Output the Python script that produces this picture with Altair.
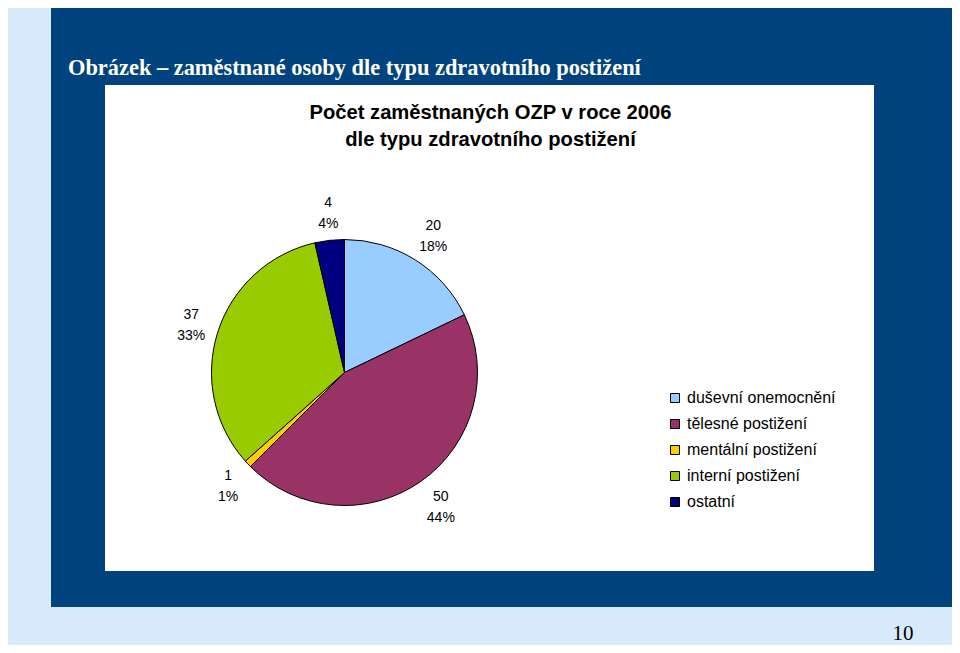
import altair as alt
import pandas as pd

# ---- data ----
categories = ["duševní onemocnění", "tělesné postižení", "mentální postižení",
              "interní postižení", "ostatní"]
values = [20, 50, 1, 37, 4]
percents = [18, 44, 1, 33, 4]
colors = ["#99CCFF", "#993366", "#FFCC00", "#99CC00", "#000080"]

page_title = "Obrázek – zaměstnané osoby dle typu zdravotního postižení"
chart_title = ["Počet zaměstnaných OZP v roce 2006", "dle typu zdravotního postižení"]
page_number = "10"

df = pd.DataFrame({"kategorie": categories, "pocet": values,
                   "poradi": list(range(len(values)))})
df["label"] = [f"{v}\n{p}%" for v, p in zip(values, percents)]

W, H = 944, 637
CX, CY = 336.5, 364.5
SANS = "Liberation Sans"
SERIF = "Liberation Serif"

one = pd.DataFrame({"d": [0]})

panel = alt.Chart(one).mark_rect(color="#01437F").encode(
    x=alt.value(43), x2=alt.value(W), y=alt.value(0), y2=alt.value(599))
box = alt.Chart(one).mark_rect(color="#FFFFFF").encode(
    x=alt.value(97), x2=alt.value(866), y=alt.value(77), y2=alt.value(563))

ptitle = alt.Chart(one).mark_text(
    text=page_title, font=SERIF, fontSize=22.4, fontWeight="bold", color="#FFFFF4",
    align="left", baseline="middle").encode(x=alt.value(60), y=alt.value(60))

ctitle = alt.Chart(one).mark_text(
    text=chart_title, font=SANS, fontSize=20.2, fontWeight="bold", color="black",
    align="center", baseline="middle", lineHeight=27).encode(
    x=alt.value(482.5), y=alt.value(105))

pnum = alt.Chart(one).mark_text(
    text=page_number, font=SERIF, fontSize=21, color="black",
    align="center", baseline="middle").encode(x=alt.value(895), y=alt.value(626))

color = alt.Color(
    "kategorie:N",
    scale=alt.Scale(domain=categories, range=colors),
    sort=categories,
    legend=alt.Legend(
        title=None, orient="none", legendX=659, legendY=382,
        symbolType="square", symbolSize=81, symbolStrokeColor="black",
        symbolStrokeWidth=1, labelFont=SANS, labelFontSize=16,
        labelColor="black", rowPadding=10, labelOffset=4, padding=0),
)

arcs = alt.Chart(df).mark_arc(outerRadius=133, stroke="black", strokeWidth=1).encode(
    theta=alt.Theta("pocet:Q", stack=True),
    color=color,
    order=alt.Order("poradi:Q"),
    x=alt.value(CX), y=alt.value(CY),
)

labels = alt.Chart(df).mark_text(
    radius=163, dy=-8, dx=2, font=SANS, fontSize=14, color="black", lineBreak="\n",
    lineHeight=21, align="center", baseline="middle").encode(
    theta=alt.Theta("pocet:Q", stack=True),
    order=alt.Order("poradi:Q"),
    text="label:N",
    x=alt.value(CX), y=alt.value(CY),
)

chart = alt.layer(panel, box, ptitle, ctitle, arcs, labels, pnum).properties(
    width=W, height=H, padding=0,
    autosize=alt.AutoSizeParams(type="none"),
    background="#D7EBFC",
).configure_view(stroke=None)

chart.save("out.html", embed_options={"renderer": "svg", "actions": False})
